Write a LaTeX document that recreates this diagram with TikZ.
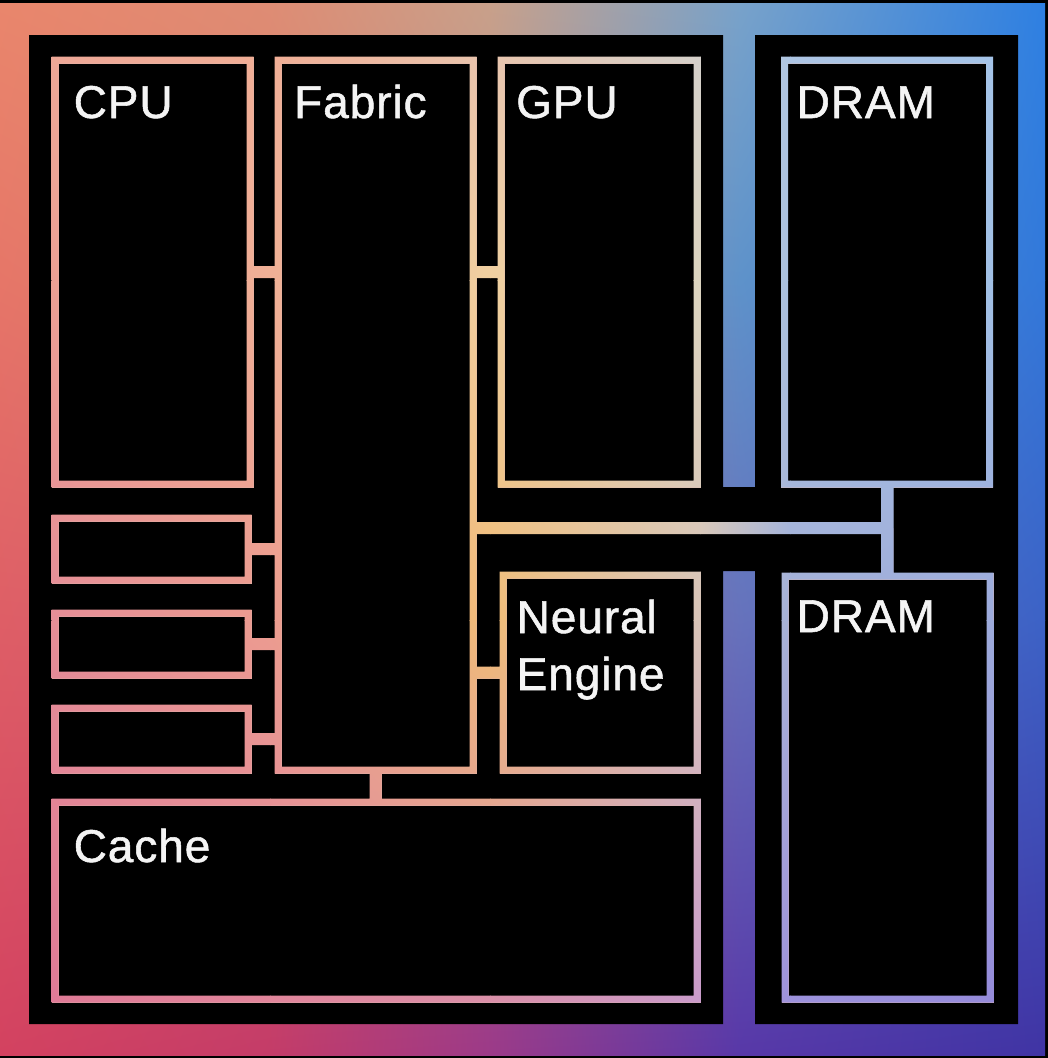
\documentclass[tikz,border=0pt]{standalone}
\usepackage{fontspec}
\setmainfont{Liberation Sans}
\newfontfamily\chiplabelfont{Liberation Sans}[FakeBold=1.2,LetterSpace=2]
\usetikzlibrary{shadings,calc}
\definecolor{labelwhite}{HTML}{F4F4F4}
\definecolor{outlinebase}{HTML}{DDB4AC}
% strong outer gradient grid (columns 0,270,490,740,1045; rows 3,280,620,1055)
\definecolor{s00}{HTML}{E9866C}\definecolor{s01}{HTML}{DE8C74}\definecolor{s02}{HTML}{C8A08A}\definecolor{s03}{HTML}{78A2CA}\definecolor{s04}{HTML}{2E80E2}
\definecolor{s10}{HTML}{E67668}\definecolor{s11}{HTML}{D8806E}\definecolor{s12}{HTML}{B89090}\definecolor{s13}{HTML}{5E92CA}\definecolor{s14}{HTML}{3278DA}
\definecolor{s20}{HTML}{DE5E66}\definecolor{s21}{HTML}{D06070}\definecolor{s22}{HTML}{A06890}\definecolor{s23}{HTML}{6672BC}\definecolor{s24}{HTML}{3C62C6}
\definecolor{s30}{HTML}{D34260}\definecolor{s31}{HTML}{C43C68}\definecolor{s32}{HTML}{9C3A88}\definecolor{s33}{HTML}{5838A8}\definecolor{s34}{HTML}{4034A4}
% pastel outline grid (columns 29,270,490,700,790,1018; rows 35,280,620,1024)
\definecolor{p00}{HTML}{EEA898}\definecolor{p01}{HTML}{F0AE96}\definecolor{p02}{HTML}{E8C4B0}\definecolor{p03}{HTML}{D4D0CC}\definecolor{p04}{HTML}{AEC6E4}\definecolor{p05}{HTML}{A4C4EA}
\definecolor{p10}{HTML}{EC9E94}\definecolor{p11}{HTML}{F0B096}\definecolor{p12}{HTML}{F0D0A0}\definecolor{p13}{HTML}{DCD4C0}\definecolor{p14}{HTML}{A8C0E0}\definecolor{p15}{HTML}{A0C0E6}
\definecolor{p20}{HTML}{E48C98}\definecolor{p21}{HTML}{EC9C90}\definecolor{p22}{HTML}{F0BC78}\definecolor{p23}{HTML}{D8C4B8}\definecolor{p24}{HTML}{A4B0D8}\definecolor{p25}{HTML}{9CAADC}
\definecolor{p30}{HTML}{DE7896}\definecolor{p31}{HTML}{E0849C}\definecolor{p32}{HTML}{D88CAC}\definecolor{p33}{HTML}{C898CC}\definecolor{p34}{HTML}{9C90DC}\definecolor{p35}{HTML}{9488DA}
\newcommand\quadshade[8]{\shade[shading=bilinear interpolation,upper left=#5,upper right=#6,lower left=#7,lower right=#8] (#1,#2) rectangle (#3,#4);}
% clip outline of a block: outer rectangle, inner rectangle reversed (hole)
\newcommand\ringclip[1]{($(#1.north west)+(-3.5,-3.5)$) -| ($(#1.south east)+(3.5,3.5)$) -| ($(#1.north west)+(-3.5,-3.5)$) -- cycle
 ($(#1.north west)+(3.5,3.5)$) |- ($(#1.south east)+(-3.5,-3.5)$) |- ($(#1.north west)+(3.5,3.5)$) -- cycle }
% clip outline of a horizontal / vertical connector (12 wide)
\newcommand\hlinkclip[2]{($(#1)+(0,-6)$) -| ($(#2)+(0,6)$) -| ($(#1)+(0,-6)$) -- cycle }
\newcommand\vlinkclip[2]{($(#1)+(-6,0)$) -| ($(#2)+(6,0)$) -| ($(#1)+(-6,0)$) -- cycle }
\begin{document}
\begin{tikzpicture}[x=1pt,y=-1pt,
  box/.style={draw=outlinebase, line width=7pt, inner sep=0pt, outer sep=0pt},
  link/.style={draw=outlinebase, line width=12pt},
  lbl/.style={text=labelwhite, font=\chiplabelfont\fontsize{46}{57}\selectfont, inner sep=0pt, anchor=base west, align=left}]
\useasboundingbox (0,0) rectangle (1048,1058);
\fill[black] (0,0) rectangle (1048,1058);
% outer gradient frame
\quadshade{0}{3}{270.5}{280.5}{s00}{s01}{s10}{s11}
\quadshade{270}{3}{490.5}{280.5}{s01}{s02}{s11}{s12}
\quadshade{490}{3}{740.5}{280.5}{s02}{s03}{s12}{s13}
\quadshade{740}{3}{1045}{280.5}{s03}{s04}{s13}{s14}
\quadshade{0}{280}{270.5}{620.5}{s10}{s11}{s20}{s21}
\quadshade{270}{280}{490.5}{620.5}{s11}{s12}{s21}{s22}
\quadshade{490}{280}{740.5}{620.5}{s12}{s13}{s22}{s23}
\quadshade{740}{280}{1045}{620.5}{s13}{s14}{s23}{s24}
\quadshade{0}{620}{270.5}{1055}{s20}{s21}{s30}{s31}
\quadshade{270}{620}{490.5}{1055}{s21}{s22}{s31}{s32}
\quadshade{490}{620}{740.5}{1055}{s22}{s23}{s32}{s33}
\quadshade{740}{620}{1045}{1055}{s23}{s24}{s33}{s34}
% black die area with the gradient strip
\fill[black] (29,35) rectangle (723,1024) (755,35) rectangle (1018,1024) (722,487) rectangle (756,571);
% blocks
\node[box, minimum width=195pt, minimum height=424pt] (cpu) at (152.5,272) {};
\node[box, minimum width=195pt, minimum height=710pt] (fabric) at (375.5,415) {};
\node[box, minimum width=196pt, minimum height=424pt] (gpu) at (599,272) {};
\node[box, minimum width=205pt, minimum height=424pt] (dramA) at (887,272) {};
\node[box, minimum width=205pt, minimum height=423pt] (dramB) at (887.5,787.5) {};
\node[box, minimum width=193pt, minimum height=62pt] (blkA) at (151.5,549) {};
\node[box, minimum width=193pt, minimum height=62pt] (blkB) at (151.5,644) {};
\node[box, minimum width=193pt, minimum height=62pt] (blkC) at (151.5,739) {};
\node[box, minimum width=194pt, minimum height=195pt] (neural) at (600,672.5) {};
\node[box, minimum width=642pt, minimum height=197pt] (cache) at (376,900.5) {};
\coordinate (bus) at (887,528);
% connector end points
\coordinate (k1a) at (cpu.east);               \coordinate (k1b) at (cpu.east -| fabric.west);
\coordinate (k2a) at (gpu.west -| fabric.east); \coordinate (k2b) at (gpu.west);
\coordinate (k3a) at (blkA.east);              \coordinate (k3b) at (blkA.east -| fabric.west);
\coordinate (k4a) at (blkB.east);              \coordinate (k4b) at (blkB.east -| fabric.west);
\coordinate (k5a) at (blkC.east);              \coordinate (k5b) at (blkC.east -| fabric.west);
\coordinate (k6a) at (neural.west -| fabric.east); \coordinate (k6b) at (neural.west);
\coordinate (k7a) at (fabric.south);           \coordinate (k7b) at (fabric.south |- cache.north);
\coordinate (k8a) at (fabric.east |- bus);
\coordinate (k9a) at (dramA.south);            \coordinate (k9b) at (dramB.north);
% connectors
\draw[link] (k1a) -- (k1b);
\draw[link] (k2a) -- (k2b);
\draw[link] (k3a) -- (k3b);
\draw[link] (k4a) -- (k4b);
\draw[link] (k5a) -- (k5b);
\draw[link] (k6a) -- (k6b);
\draw[link] (k7a) -- (k7b);
\draw[link] (k8a) -- (bus);
\draw[link] (k9a) -- (k9b);
% tint outlines and connectors with the gradient
\begin{scope}
\clip \ringclip{cpu} \ringclip{fabric} \ringclip{gpu} \ringclip{dramA} \ringclip{dramB}
      \ringclip{blkA} \ringclip{blkB} \ringclip{blkC} \ringclip{neural} \ringclip{cache}
      \hlinkclip{k1a}{k1b} \hlinkclip{k2a}{k2b} \hlinkclip{k3a}{k3b} \hlinkclip{k4a}{k4b}
      \hlinkclip{k5a}{k5b} \hlinkclip{k6a}{k6b} \hlinkclip{k8a}{bus}
      \vlinkclip{k7a}{k7b} \vlinkclip{k9a}{k9b};
\quadshade{25}{30}{270.5}{280.5}{p00}{p01}{p10}{p11}
\quadshade{270}{30}{490.5}{280.5}{p01}{p02}{p11}{p12}
\quadshade{490}{30}{700.5}{280.5}{p02}{p03}{p12}{p13}
\quadshade{700}{30}{790.5}{280.5}{p03}{p04}{p13}{p14}
\quadshade{790}{30}{1022}{280.5}{p04}{p05}{p14}{p15}
\quadshade{25}{280}{270.5}{620.5}{p10}{p11}{p20}{p21}
\quadshade{270}{280}{490.5}{620.5}{p11}{p12}{p21}{p22}
\quadshade{490}{280}{700.5}{620.5}{p12}{p13}{p22}{p23}
\quadshade{700}{280}{790.5}{620.5}{p13}{p14}{p23}{p24}
\quadshade{790}{280}{1022}{620.5}{p14}{p15}{p24}{p25}
\quadshade{25}{620}{270.5}{1028}{p20}{p21}{p30}{p31}
\quadshade{270}{620}{490.5}{1028}{p21}{p22}{p31}{p32}
\quadshade{490}{620}{700.5}{1028}{p22}{p23}{p32}{p33}
\quadshade{700}{620}{790.5}{1028}{p23}{p24}{p33}{p34}
\quadshade{790}{620}{1022}{1028}{p24}{p25}{p34}{p35}
\end{scope}
% labels
\node[lbl] (cpuL) at (73.5,118) {CPU};
\node[lbl] (fabricL) at (294,118) {Fabric};
\node[lbl] (gpuL) at (516,118) {GPU};
\node[lbl] (dramAL) at (796.5,118) {DRAM};
\node[lbl] (dramBL) at (796.5,632) {DRAM};
\node[lbl] (neuralL) at (516.5,690) {Neural\\Engine};
\node[lbl] (cacheL) at (73.5,862) {Cache};
\end{tikzpicture}
\end{document}
